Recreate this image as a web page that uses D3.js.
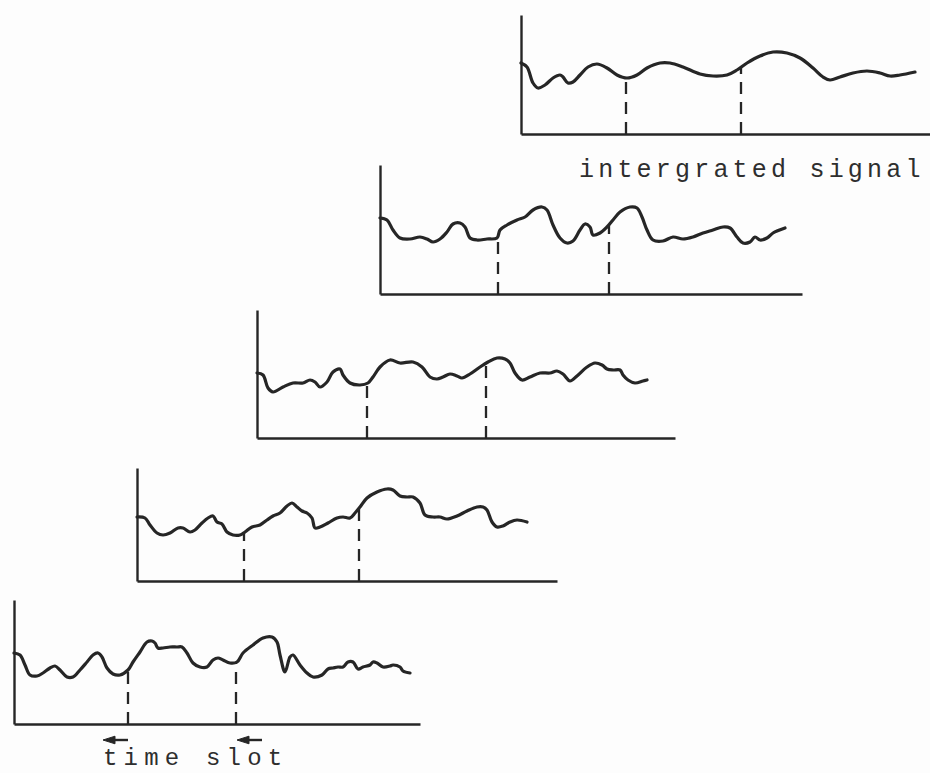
<!DOCTYPE html>
<html>
<head>
<meta charset="utf-8">
<script src="https://cdn.jsdelivr.net/npm/d3@7"></script>
<style>
  html, body { margin: 0; padding: 0; background: #fdfdfd; }
  svg { display: block; }
</style>
</head>
<body>
<svg id="chart" width="930" height="773"></svg>
<script>
// ---------- DATA (time in arbitrary units, amplitude in arbitrary units) ----------
const panelNames = ["integrated", "frame4", "frame3", "frame2", "frame1"];

const t1 = [0,6,12,17,24,32,39,42,47,52,59,67,76,86,96,106,116,126,139,149,162,179,192,206,216,226,239,252,266,279,292,302,309,319,332,346,359,369,379,394];
const a1 = [71,67,51,46,49,56,59,57,51,52,59,67,70,66,59,56,59,66,71,71,67,60,58,59,64,71,78,82,81,76,66,57,54,57,61,63,61,58,59,62];

const t2 = [0,7,13,20,30,40,47,53,60,67,73,80,85,90,97,107,117,120,127,137,145,153,162,167,173,180,187,193,200,205,210,213,220,227,233,240,250,257,262,267,273,283,293,303,313,323,333,343,350,357,363,370,375,380,387,393,405];
const a2 = [76,74,64,56,55,57,55,52,55,62,70,71,67,56,54,55,56,64,69,74,77,84,87,84,69,56,51,53,64,70,67,59,61,67,74,82,87,86,77,64,54,53,57,55,57,61,64,67,66,57,51,52,57,54,56,61,66];

const t3 = [0,6,11,16,26,36,46,53,58,63,70,76,83,86,93,103,111,116,123,133,143,156,165,173,180,186,193,200,205,213,223,231,240,248,253,258,265,273,283,293,300,306,313,320,330,338,345,350,356,363,366,371,378,386,390];
const a3 = [65,63,50,46,51,55,55,58,56,51,56,66,69,63,55,53,55,61,71,78,75,76,71,61,59,61,64,62,60,64,71,76,80,79,75,65,58,61,65,65,67,64,57,62,71,75,73,69,68,68,63,58,55,57,58];

const t4 = [0,8,13,20,26,33,41,46,53,58,65,71,76,80,85,90,96,103,108,115,123,130,136,143,150,155,160,165,170,175,178,183,191,200,206,213,218,223,230,240,250,256,263,270,276,283,288,296,303,310,320,330,340,346,350,355,360,366,373,380,390];
const a4 = [64,63,56,48,46,48,53,53,49,51,58,63,65,59,57,49,46,46,49,54,56,61,65,68,75,78,74,70,68,63,53,54,58,63,64,63,68,74,83,89,92,91,85,84,84,78,66,64,64,62,65,70,74,74,71,59,54,55,59,61,59];

const t5 = [0,6,11,16,23,29,36,41,46,53,59,66,73,79,84,88,93,99,106,114,119,126,133,138,141,144,149,156,163,168,173,179,186,193,199,204,209,216,223,229,239,249,258,263,266,271,276,279,286,293,299,308,314,319,324,329,334,339,344,349,356,359,363,369,376,379,386,389,396];
const a5 = [71,69,59,49,48,51,56,58,54,47,47,54,62,69,71,67,56,50,49,54,62,72,82,83,81,76,76,77,77,77,71,61,57,57,64,66,64,61,62,71,79,86,87,82,69,52,67,69,59,51,47,49,55,56,57,57,62,62,55,57,59,62,61,57,58,59,57,53,51];

const timeSeries = [t1, t2, t3, t4, t5];
const ampSeries  = [a1, a2, a3, a4, a5];

// time-slot boundaries (dashed lines) per panel
const slotBounds = [[105, 220], [118, 229], [110, 229], [107, 222], [114, 222]];

// time extent of each panel's horizontal axis and amplitude extent of its vertical axis
const timeExtent = [409, 422, 418, 420, 406];
const ampExtent  = [119, 129, 128, 113, 124];

// labels
const topLabel = "intergrated signal";
const bottomLabel = "time slot";
// time-slot arrows on the first frame: [tail, head] in time units
const slotArrows = [[114, 89], [248, 223]];

// ---------- LAYOUT (pixel placement of each panel) ----------
const layout = [
  { left: 521, bottom: 134 },
  { left: 380, bottom: 294 },
  { left: 257, bottom: 438 },
  { left: 137, bottom: 581 },
  { left: 14,  bottom: 724 }
];

const ink = "#262626";
const svg = d3.select("#chart");

const scales = [];

panelNames.forEach((name, i) => {
  const L = layout[i];
  const x = d3.scaleLinear().domain([0, timeExtent[i]]).range([L.left, L.left + timeExtent[i]]);
  const y = d3.scaleLinear().domain([0, ampExtent[i]]).range([L.bottom, L.bottom - ampExtent[i]]);
  scales.push({ x, y });

  const g = svg.append("g").attr("class", "panel " + name);

  // axes (no ticks, just the lines)
  const xAxis = g.append("g").attr("transform", `translate(0,${L.bottom})`)
    .call(d3.axisBottom(x).ticks(0).tickSizeOuter(0));
  const yAxis = g.append("g").attr("transform", `translate(${L.left},0)`)
    .call(d3.axisLeft(y).ticks(0).tickSizeOuter(0));
  [xAxis, yAxis].forEach(ax => {
    ax.select(".domain").attr("stroke", ink).attr("stroke-width", 2.4);
    ax.selectAll("text").remove();
  });

  const tArr = timeSeries[i], aArr = ampSeries[i];
  const pts = tArr.map((t, k) => ({ t, a: aArr[k] }));

  // dashed slot boundaries from axis up to the signal
  const interp = t => {
    for (let k = 0; k < tArr.length - 1; k++) {
      if (t >= tArr[k] && t <= tArr[k + 1]) {
        const f = (t - tArr[k]) / (tArr[k + 1] - tArr[k]);
        return aArr[k] + f * (aArr[k + 1] - aArr[k]);
      }
    }
    return aArr[aArr.length - 1];
  };
  g.selectAll("line.slot").data(slotBounds[i]).enter().append("line")
    .attr("class", "slot")
    .attr("x1", d => x(d)).attr("x2", d => x(d))
    .attr("y1", y(0)).attr("y2", d => y(interp(d)))
    .attr("stroke", ink).attr("stroke-width", 2.3)
    .attr("stroke-dasharray", "12,8");

  // the signal
  const line = d3.line().x(d => x(d.t)).y(d => y(d.a)).curve(d3.curveCatmullRom.alpha(0.5));
  g.append("path").datum(pts)
    .attr("d", line)
    .attr("fill", "none")
    .attr("stroke", ink)
    .attr("stroke-width", 3.2)
    .attr("stroke-linejoin", "round")
    .attr("stroke-linecap", "round");
});

// label under the integrated signal
svg.append("text")
  .attr("x", 579).attr("y", 177)
  .attr("font-family", "'Liberation Mono', 'DejaVu Sans Mono', monospace")
  .attr("font-size", 25)
  .attr("letter-spacing", 4.2)
  .attr("fill", "#2e2e2e")
  .text(topLabel);

// time slot arrows and label under the first frame
const s5 = scales[4];
const arrowY = 740;
const ag = svg.append("g").attr("class", "arrows");
ag.selectAll("line").data(slotArrows).enter().append("line")
  .attr("x1", d => s5.x(d[0])).attr("x2", d => s5.x(d[1]) + 6)
  .attr("y1", arrowY).attr("y2", arrowY)
  .attr("stroke", ink).attr("stroke-width", 2.4);
ag.selectAll("path").data(slotArrows).enter().append("path")
  .attr("d", d => {
    const hx = s5.x(d[1]);
    const dir = d[0] > d[1] ? 1 : -1;
    return `M${hx},${arrowY} L${hx + dir * 12},${arrowY - 3.8} L${hx + dir * 12},${arrowY + 3.8} Z`;
  })
  .attr("fill", ink).attr("stroke", ink).attr("stroke-width", 1).attr("stroke-linejoin", "round");

svg.append("text")
  .attr("x", 103).attr("y", 765)
  .attr("font-family", "'Liberation Mono', 'DejaVu Sans Mono', monospace")
  .attr("font-size", 24)
  .attr("letter-spacing", 6.2)
  .attr("fill", "#2e2e2e")
  .text(bottomLabel);
</script>
</body>
</html>
